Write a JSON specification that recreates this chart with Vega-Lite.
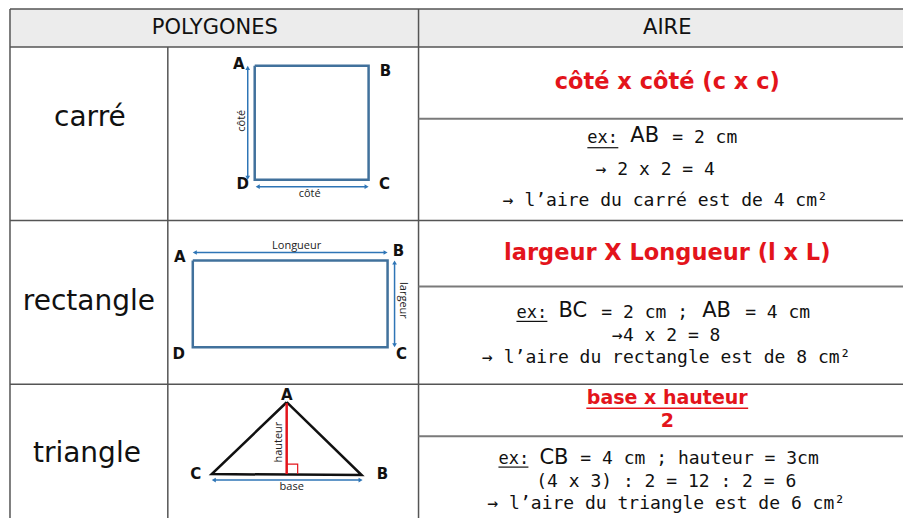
{
  "$schema": "https://vega.github.io/schema/vega-lite/v6.json",
  "width": 904,
  "height": 519,
  "autosize": {"type": "fit", "contains": "padding"},
  "padding": 0,
  "background": "white",
  "config": {"view": {"stroke": null}},
  "datasets": {
    "header": [{"x": 10, "x2": 904, "y": 9, "y2": 47}],
    "grid": [
      {"x": 10, "x2": 904, "y": 9, "y2": 9},
      {"x": 10, "x2": 904, "y": 47, "y2": 47},
      {"x": 10, "x2": 904, "y": 221, "y2": 221},
      {"x": 10, "x2": 904, "y": 385, "y2": 385},
      {"x": 10, "x2": 10, "y": 9, "y2": 519},
      {"x": 168, "x2": 168, "y": 47, "y2": 519},
      {"x": 419, "x2": 419, "y": 9, "y2": 519}
    ],
    "sublines": [
      {"x": 419, "x2": 904, "y": 119, "y2": 119},
      {"x": 419, "x2": 904, "y": 287, "y2": 287},
      {"x": 419, "x2": 904, "y": 437, "y2": 437}
    ],
    "blueShapes": [
      {"shape": "carre", "o": 1, "x": 255, "y": 66},
      {"shape": "carre", "o": 2, "x": 369, "y": 66},
      {"shape": "carre", "o": 3, "x": 369, "y": 180},
      {"shape": "carre", "o": 4, "x": 255, "y": 180},
      {"shape": "carre", "o": 5, "x": 255, "y": 66},
      {"shape": "rect", "o": 1, "x": 193, "y": 261},
      {"shape": "rect", "o": 2, "x": 388, "y": 261},
      {"shape": "rect", "o": 3, "x": 388, "y": 348},
      {"shape": "rect", "o": 4, "x": 193, "y": 348},
      {"shape": "rect", "o": 5, "x": 193, "y": 261}
    ],
    "triangle": [
      {"o": 1, "x": 287, "y": 403},
      {"o": 2, "x": 362, "y": 476},
      {"o": 3, "x": 212, "y": 475},
      {"o": 4, "x": 287, "y": 403}
    ],
    "rightAngle": [
      {"o": 1, "x": 287, "y": 465},
      {"o": 2, "x": 298, "y": 465},
      {"o": 3, "x": 298, "y": 475}
    ],
    "altitude": [{"x": 287, "x2": 287, "y": 404, "y2": 475}],
    "arrows": [
      {"x": 248, "x2": 248, "y": 69, "y2": 177},
      {"x": 259, "x2": 366, "y": 187, "y2": 187},
      {"x": 196, "x2": 385, "y": 253, "y2": 253},
      {"x": 395, "x2": 395, "y": 264, "y2": 345},
      {"x": 215, "x2": 360, "y": 481, "y2": 481}
    ],
    "heads": [
      {"dir": "up", "x": 248, "y": 68},
      {"dir": "down", "x": 248, "y": 178},
      {"dir": "left", "x": 258, "y": 187},
      {"dir": "right", "x": 367, "y": 187},
      {"dir": "left", "x": 195, "y": 253},
      {"dir": "right", "x": 386, "y": 253},
      {"dir": "up", "x": 395, "y": 263},
      {"dir": "down", "x": 395, "y": 346},
      {"dir": "left", "x": 214, "y": 481},
      {"dir": "right", "x": 361, "y": 481}
    ],
    "vertices": [
      {"t": "A", "x": 239, "y": 64},
      {"t": "B", "x": 386, "y": 71},
      {"t": "D", "x": 243, "y": 184},
      {"t": "C", "x": 385, "y": 184},
      {"t": "A", "x": 180, "y": 257},
      {"t": "B", "x": 399, "y": 251},
      {"t": "D", "x": 179, "y": 355},
      {"t": "C", "x": 402, "y": 355},
      {"t": "A", "x": 287, "y": 396},
      {"t": "C", "x": 196, "y": 475},
      {"t": "B", "x": 383, "y": 475}
    ],
    "smallH": [
      {"t": "côté", "x": 310, "y": 194},
      {"t": "Longueur", "x": 297, "y": 246},
      {"t": "base", "x": 292, "y": 488}
    ],
    "smallUp": [
      {"t": "côté", "x": 242, "y": 121},
      {"t": "hauteur", "x": 279, "y": 443}
    ],
    "smallDown": [
      {"t": "largeur", "x": 403, "y": 301}
    ],
    "titles": [
      {"t": "POLYGONES", "x": 215, "y": 28},
      {"t": "AIRE", "x": 668, "y": 28}
    ],
    "names": [
      {"t": "carré", "x": 90, "y": 118},
      {"t": "rectangle", "x": 89, "y": 303},
      {"t": "triangle", "x": 87, "y": 455}
    ],
    "formulas": [
      {"t": "côté x côté (c x c)", "x": 668, "y": 82},
      {"t": "largeur X Longueur (l x L)", "x": 668, "y": 253}
    ],
    "triFormula": [
      {"t": "base x hauteur", "x": 668, "y": 399},
      {"t": "2", "x": 668, "y": 422}
    ],
    "redUnderline": [{"x": 587, "x2": 749, "y": 409, "y2": 409}],
    "exLabels": [
      {"t": "ex:", "x": 588, "y": 138},
      {"t": "ex:", "x": 517, "y": 314},
      {"t": "ex:", "x": 499, "y": 460}
    ],
    "exUnderline": [
      {"x": 588, "x2": 619, "y": 148, "y2": 148},
      {"x": 517, "x2": 548, "y": 322, "y2": 322},
      {"x": 499, "x2": 529, "y": 468, "y2": 468}
    ],
    "bigLetters": [
      {"t": "AB", "x": 631, "y": 136},
      {"t": "BC", "x": 559, "y": 312},
      {"t": "AB", "x": 703, "y": 312},
      {"t": "CB", "x": 540, "y": 459}
    ],
    "exRest": [
      {"t": "= 2 cm", "x": 673, "y": 138},
      {"t": "= 2 cm ;", "x": 602, "y": 314},
      {"t": "= 4 cm", "x": 746, "y": 314},
      {"t": "= 4 cm ; hauteur = 3cm", "x": 581, "y": 460}
    ],
    "lines": [
      {"t": "→ 2 x 2 = 4", "x": 656, "y": 170},
      {"t": "→ l’aire du carré est de 4 cm²", "x": 666, "y": 201},
      {"t": "→4 x 2 = 8", "x": 667, "y": 337},
      {"t": "→ l’aire du rectangle est de 8 cm²", "x": 667, "y": 359},
      {"t": "(4 x 3) : 2 = 12 : 2 = 6", "x": 667, "y": 483},
      {"t": "→ l’aire du triangle est de 6 cm²", "x": 667, "y": 505}
    ]
  },
  "layer": [
    {
      "data": {"name": "header"},
      "mark": {"type": "rect", "color": "#ececec"},
      "encoding": {
        "x": {"field": "x", "type": "quantitative", "scale": {"domain": [0, 904], "nice": false, "zero": false}, "axis": null},
        "x2": {"field": "x2"},
        "y": {"field": "y", "type": "quantitative", "scale": {"domain": [0, 519], "nice": false, "zero": false, "reverse": true}, "axis": null},
        "y2": {"field": "y2"}
      }
    },
    {
      "data": {"name": "grid"},
      "mark": {"type": "rule", "color": "#555555", "strokeWidth": 1.5},
      "encoding": {
        "x": {"field": "x", "type": "quantitative", "scale": {"domain": [0, 904], "nice": false, "zero": false}, "axis": null},
        "x2": {"field": "x2"},
        "y": {"field": "y", "type": "quantitative", "scale": {"domain": [0, 519], "nice": false, "zero": false, "reverse": true}, "axis": null},
        "y2": {"field": "y2"}
      }
    },
    {
      "data": {"name": "sublines"},
      "mark": {"type": "rule", "color": "#7a7a7a", "strokeWidth": 2},
      "encoding": {
        "x": {"field": "x", "type": "quantitative", "scale": {"domain": [0, 904], "nice": false, "zero": false}, "axis": null},
        "x2": {"field": "x2"},
        "y": {"field": "y", "type": "quantitative", "scale": {"domain": [0, 519], "nice": false, "zero": false, "reverse": true}, "axis": null},
        "y2": {"field": "y2"}
      }
    },
    {
      "data": {"name": "blueShapes"},
      "mark": {"type": "line", "color": "#41719c", "strokeWidth": 2.5},
      "encoding": {
        "x": {"field": "x", "type": "quantitative", "scale": {"domain": [0, 904], "nice": false, "zero": false}, "axis": null},
        "y": {"field": "y", "type": "quantitative", "scale": {"domain": [0, 519], "nice": false, "zero": false, "reverse": true}, "axis": null},
        "detail": {"field": "shape"},
        "order": {"field": "o", "type": "quantitative"}
      }
    },
    {
      "data": {"name": "triangle"},
      "mark": {"type": "line", "color": "#111111", "strokeWidth": 2.5, "strokeJoin": "miter"},
      "encoding": {
        "x": {"field": "x", "type": "quantitative", "scale": {"domain": [0, 904], "nice": false, "zero": false}, "axis": null},
        "y": {"field": "y", "type": "quantitative", "scale": {"domain": [0, 519], "nice": false, "zero": false, "reverse": true}, "axis": null},
        "order": {"field": "o", "type": "quantitative"}
      }
    },
    {
      "data": {"name": "rightAngle"},
      "mark": {"type": "line", "color": "#e3141b", "strokeWidth": 1.2},
      "encoding": {
        "x": {"field": "x", "type": "quantitative", "scale": {"domain": [0, 904], "nice": false, "zero": false}, "axis": null},
        "y": {"field": "y", "type": "quantitative", "scale": {"domain": [0, 519], "nice": false, "zero": false, "reverse": true}, "axis": null},
        "order": {"field": "o", "type": "quantitative"}
      }
    },
    {
      "data": {"name": "altitude"},
      "mark": {"type": "rule", "color": "#e3141b", "strokeWidth": 2.5},
      "encoding": {
        "x": {"field": "x", "type": "quantitative", "scale": {"domain": [0, 904], "nice": false, "zero": false}, "axis": null},
        "x2": {"field": "x2"},
        "y": {"field": "y", "type": "quantitative", "scale": {"domain": [0, 519], "nice": false, "zero": false, "reverse": true}, "axis": null},
        "y2": {"field": "y2"}
      }
    },
    {
      "data": {"name": "arrows"},
      "mark": {"type": "rule", "color": "#2e75b6", "strokeWidth": 1.5},
      "encoding": {
        "x": {"field": "x", "type": "quantitative", "scale": {"domain": [0, 904], "nice": false, "zero": false}, "axis": null},
        "x2": {"field": "x2"},
        "y": {"field": "y", "type": "quantitative", "scale": {"domain": [0, 519], "nice": false, "zero": false, "reverse": true}, "axis": null},
        "y2": {"field": "y2"}
      }
    },
    {
      "data": {"name": "heads"},
      "mark": {"type": "point", "filled": true, "color": "#2e75b6", "size": 22, "opacity": 1},
      "encoding": {
        "x": {"field": "x", "type": "quantitative", "scale": {"domain": [0, 904], "nice": false, "zero": false}, "axis": null},
        "y": {"field": "y", "type": "quantitative", "scale": {"domain": [0, 519], "nice": false, "zero": false, "reverse": true}, "axis": null},
        "shape": {"field": "dir", "type": "nominal", "scale": {"domain": ["up", "down", "left", "right"], "range": ["triangle-up", "triangle-down", "triangle-left", "triangle-right"]}, "legend": null}
      }
    },
    {
      "data": {"name": "vertices"},
      "mark": {"type": "text", "font": "DejaVu Sans", "fontSize": 15, "fontWeight": "bold", "color": "#111111", "baseline": "middle", "align": "center"},
      "encoding": {
        "x": {"field": "x", "type": "quantitative", "scale": {"domain": [0, 904], "nice": false, "zero": false}, "axis": null},
        "y": {"field": "y", "type": "quantitative", "scale": {"domain": [0, 519], "nice": false, "zero": false, "reverse": true}, "axis": null},
        "text": {"field": "t"}
      }
    },
    {
      "data": {"name": "smallH"},
      "mark": {"type": "text", "font": "Open Sans", "fontSize": 11, "color": "#222222", "baseline": "middle", "align": "center"},
      "encoding": {
        "x": {"field": "x", "type": "quantitative", "scale": {"domain": [0, 904], "nice": false, "zero": false}, "axis": null},
        "y": {"field": "y", "type": "quantitative", "scale": {"domain": [0, 519], "nice": false, "zero": false, "reverse": true}, "axis": null},
        "text": {"field": "t"}
      }
    },
    {
      "data": {"name": "smallUp"},
      "mark": {"type": "text", "font": "Open Sans", "fontSize": 11, "color": "#222222", "baseline": "middle", "align": "center", "angle": 270},
      "encoding": {
        "x": {"field": "x", "type": "quantitative", "scale": {"domain": [0, 904], "nice": false, "zero": false}, "axis": null},
        "y": {"field": "y", "type": "quantitative", "scale": {"domain": [0, 519], "nice": false, "zero": false, "reverse": true}, "axis": null},
        "text": {"field": "t"}
      }
    },
    {
      "data": {"name": "smallDown"},
      "mark": {"type": "text", "font": "Open Sans", "fontSize": 11, "color": "#222222", "baseline": "middle", "align": "center", "angle": 90},
      "encoding": {
        "x": {"field": "x", "type": "quantitative", "scale": {"domain": [0, 904], "nice": false, "zero": false}, "axis": null},
        "y": {"field": "y", "type": "quantitative", "scale": {"domain": [0, 519], "nice": false, "zero": false, "reverse": true}, "axis": null},
        "text": {"field": "t"}
      }
    },
    {
      "data": {"name": "titles"},
      "mark": {"type": "text", "font": "DejaVu Sans", "fontSize": 21, "color": "#111111", "baseline": "middle", "align": "center"},
      "encoding": {
        "x": {"field": "x", "type": "quantitative", "scale": {"domain": [0, 904], "nice": false, "zero": false}, "axis": null},
        "y": {"field": "y", "type": "quantitative", "scale": {"domain": [0, 519], "nice": false, "zero": false, "reverse": true}, "axis": null},
        "text": {"field": "t"}
      }
    },
    {
      "data": {"name": "names"},
      "mark": {"type": "text", "font": "DejaVu Sans", "fontSize": 28, "color": "#111111", "baseline": "middle", "align": "center"},
      "encoding": {
        "x": {"field": "x", "type": "quantitative", "scale": {"domain": [0, 904], "nice": false, "zero": false}, "axis": null},
        "y": {"field": "y", "type": "quantitative", "scale": {"domain": [0, 519], "nice": false, "zero": false, "reverse": true}, "axis": null},
        "text": {"field": "t"}
      }
    },
    {
      "data": {"name": "formulas"},
      "mark": {"type": "text", "font": "DejaVu Sans", "fontSize": 22.5, "fontWeight": "bold", "color": "#e3141b", "baseline": "middle", "align": "center"},
      "encoding": {
        "x": {"field": "x", "type": "quantitative", "scale": {"domain": [0, 904], "nice": false, "zero": false}, "axis": null},
        "y": {"field": "y", "type": "quantitative", "scale": {"domain": [0, 519], "nice": false, "zero": false, "reverse": true}, "axis": null},
        "text": {"field": "t"}
      }
    },
    {
      "data": {"name": "triFormula"},
      "mark": {"type": "text", "font": "DejaVu Sans", "fontSize": 19, "fontWeight": "bold", "color": "#e3141b", "baseline": "middle", "align": "center"},
      "encoding": {
        "x": {"field": "x", "type": "quantitative", "scale": {"domain": [0, 904], "nice": false, "zero": false}, "axis": null},
        "y": {"field": "y", "type": "quantitative", "scale": {"domain": [0, 519], "nice": false, "zero": false, "reverse": true}, "axis": null},
        "text": {"field": "t"}
      }
    },
    {
      "data": {"name": "redUnderline"},
      "mark": {"type": "rule", "color": "#e3141b", "strokeWidth": 1.5},
      "encoding": {
        "x": {"field": "x", "type": "quantitative", "scale": {"domain": [0, 904], "nice": false, "zero": false}, "axis": null},
        "x2": {"field": "x2"},
        "y": {"field": "y", "type": "quantitative", "scale": {"domain": [0, 519], "nice": false, "zero": false, "reverse": true}, "axis": null}
      }
    },
    {
      "data": {"name": "exLabels"},
      "mark": {"type": "text", "font": "DejaVu Sans Mono", "fontSize": 17, "color": "#111111", "baseline": "middle", "align": "left"},
      "encoding": {
        "x": {"field": "x", "type": "quantitative", "scale": {"domain": [0, 904], "nice": false, "zero": false}, "axis": null},
        "y": {"field": "y", "type": "quantitative", "scale": {"domain": [0, 519], "nice": false, "zero": false, "reverse": true}, "axis": null},
        "text": {"field": "t"}
      }
    },
    {
      "data": {"name": "exUnderline"},
      "mark": {"type": "rule", "color": "#111111", "strokeWidth": 1.2},
      "encoding": {
        "x": {"field": "x", "type": "quantitative", "scale": {"domain": [0, 904], "nice": false, "zero": false}, "axis": null},
        "x2": {"field": "x2"},
        "y": {"field": "y", "type": "quantitative", "scale": {"domain": [0, 519], "nice": false, "zero": false, "reverse": true}, "axis": null}
      }
    },
    {
      "data": {"name": "bigLetters"},
      "mark": {"type": "text", "font": "DejaVu Sans", "fontSize": 21, "color": "#111111", "baseline": "middle", "align": "left"},
      "encoding": {
        "x": {"field": "x", "type": "quantitative", "scale": {"domain": [0, 904], "nice": false, "zero": false}, "axis": null},
        "y": {"field": "y", "type": "quantitative", "scale": {"domain": [0, 519], "nice": false, "zero": false, "reverse": true}, "axis": null},
        "text": {"field": "t"}
      }
    },
    {
      "data": {"name": "exRest"},
      "mark": {"type": "text", "font": "DejaVu Sans Mono", "fontSize": 18, "color": "#111111", "baseline": "middle", "align": "left"},
      "encoding": {
        "x": {"field": "x", "type": "quantitative", "scale": {"domain": [0, 904], "nice": false, "zero": false}, "axis": null},
        "y": {"field": "y", "type": "quantitative", "scale": {"domain": [0, 519], "nice": false, "zero": false, "reverse": true}, "axis": null},
        "text": {"field": "t"}
      }
    },
    {
      "data": {"name": "lines"},
      "mark": {"type": "text", "font": "DejaVu Sans Mono", "fontSize": 18, "color": "#111111", "baseline": "middle", "align": "center"},
      "encoding": {
        "x": {"field": "x", "type": "quantitative", "scale": {"domain": [0, 904], "nice": false, "zero": false}, "axis": null},
        "y": {"field": "y", "type": "quantitative", "scale": {"domain": [0, 519], "nice": false, "zero": false, "reverse": true}, "axis": null},
        "text": {"field": "t"}
      }
    }
  ]
}
